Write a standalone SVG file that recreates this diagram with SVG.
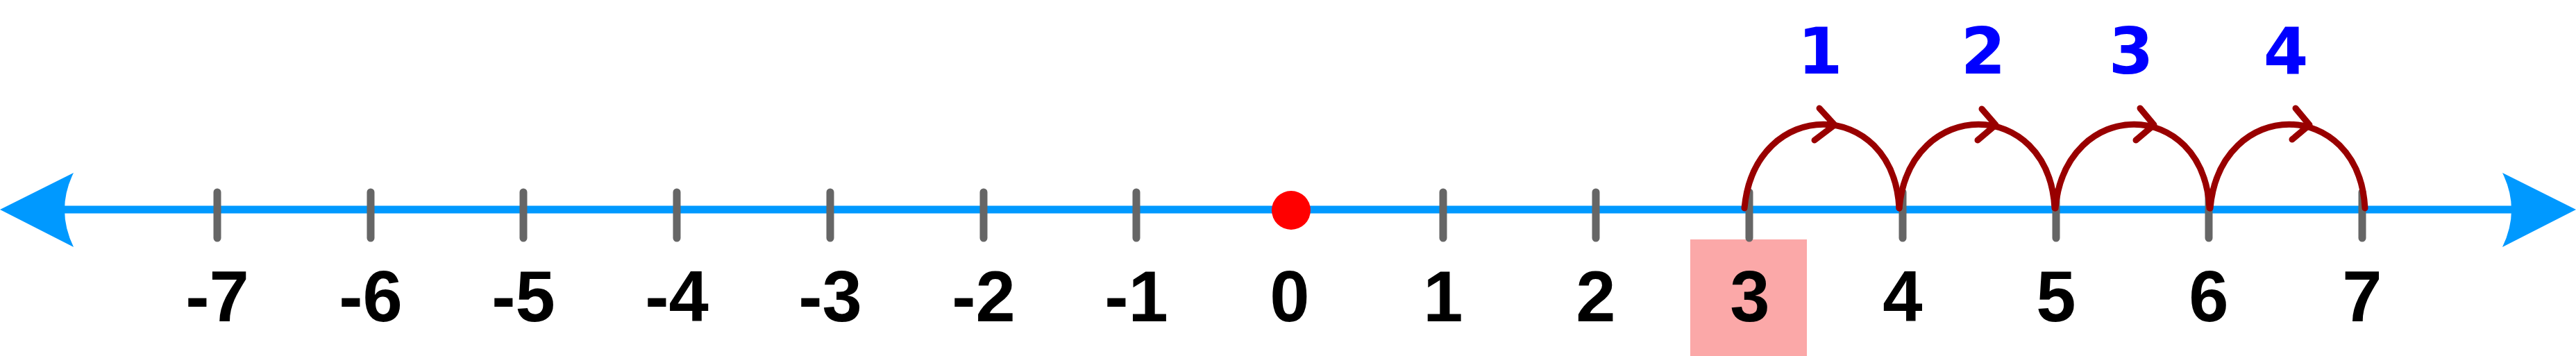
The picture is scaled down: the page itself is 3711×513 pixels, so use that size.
<svg xmlns="http://www.w3.org/2000/svg" width="3711" height="513" viewBox="0 0 3711 513">
  <style>
    .axis { stroke: #0099ff; stroke-width: 11; fill: none; }
    .head { fill: #0099ff; stroke: none; }
    .tick { stroke: #666666; stroke-width: 11; stroke-linecap: round; }
    .lbl { font-family: "Liberation Sans", Arial, sans-serif; font-weight: bold; font-size: 103px; fill: #000000; text-anchor: middle; }
    .step { font-family: "DejaVu Sans", Verdana, sans-serif; font-weight: bold; font-size: 93px; fill: #0000ff; text-anchor: middle; }
    .hop { stroke: #990000; stroke-width: 9; fill: none; stroke-linecap: round; stroke-linejoin: round; }
  </style>
  <rect width="3711" height="513" fill="#ffffff"/>

  <g id="axis">
    <line class="axis" x1="90" y1="302" x2="3622" y2="302"/>
    <path class="head" d="M0,302 L106,249 Q80,302 106,356 Z"/>
    <path class="head" d="M3711,302 L3605,249 Q3631,302 3605,356 Z"/>
  </g>

  <rect id="highlight" x="2435" y="345" width="168" height="168" fill="#fba8a8"/>

  <g id="tick-m7"><line class="tick" x1="313" y1="277" x2="313" y2="343"/><text class="lbl" x="313" y="463">-7</text></g>
  <g id="tick-m6"><line class="tick" x1="534" y1="277" x2="534" y2="343"/><text class="lbl" x="534" y="463">-6</text></g>
  <g id="tick-m5"><line class="tick" x1="754" y1="277" x2="754" y2="343"/><text class="lbl" x="754" y="463">-5</text></g>
  <g id="tick-m4"><line class="tick" x1="975" y1="277" x2="975" y2="343"/><text class="lbl" x="975" y="463">-4</text></g>
  <g id="tick-m3"><line class="tick" x1="1196" y1="277" x2="1196" y2="343"/><text class="lbl" x="1196" y="463">-3</text></g>
  <g id="tick-m2"><line class="tick" x1="1417" y1="277" x2="1417" y2="343"/><text class="lbl" x="1417" y="463">-2</text></g>
  <g id="tick-m1"><line class="tick" x1="1637" y1="277" x2="1637" y2="343"/><text class="lbl" x="1637" y="463">-1</text></g>
  <g id="tick-0"><circle cx="1860" cy="303" r="28" fill="#ff0000"/><text class="lbl" x="1858" y="463">0</text></g>
  <g id="tick-1"><line class="tick" x1="2079" y1="277" x2="2079" y2="343"/><text class="lbl" x="2079" y="463">1</text></g>
  <g id="tick-2"><line class="tick" x1="2299" y1="277" x2="2299" y2="343"/><text class="lbl" x="2299" y="463">2</text></g>
  <g id="tick-3"><line class="tick" x1="2520" y1="277" x2="2520" y2="343"/><text class="lbl" x="2521" y="463">3</text></g>
  <g id="tick-4"><line class="tick" x1="2741" y1="277" x2="2741" y2="343"/><text class="lbl" x="2741" y="463">4</text></g>
  <g id="tick-5"><line class="tick" x1="2962" y1="277" x2="2962" y2="343"/><text class="lbl" x="2962" y="463">5</text></g>
  <g id="tick-6"><line class="tick" x1="3182" y1="277" x2="3182" y2="343"/><text class="lbl" x="3182" y="463">6</text></g>
  <g id="tick-7"><line class="tick" x1="3403" y1="277" x2="3403" y2="343"/><text class="lbl" x="3403" y="463">7</text></g>

  <g id="connectors">
    <path class="hop" d="M2513,300 c15,-161 214,-161 223,0"/>
    <path class="hop" d="M2621,156 L2643,180 L2614,202"/>
    <path class="hop" d="M2736,300 c15,-161 215,-161 224,0"/>
    <path class="hop" d="M2855,157 L2875,180 L2849,202"/>
    <path class="hop" d="M2961,300 c15,-161 213,-161 222,0"/>
    <path class="hop" d="M3083,156 L3103,180 L3077,202"/>
    <path class="hop" d="M3184,300 c15,-161 214,-161 223,0"/>
    <path class="hop" d="M3307,156 L3327,180 L3302,201"/>
  </g>

  <g id="step-labels">
    <text class="step" x="2622" y="106">1</text>
    <text class="step" x="2857" y="106">2</text>
    <text class="step" x="3070" y="106">3</text>
    <text class="step" x="3293" y="106">4</text>
  </g>
</svg>
